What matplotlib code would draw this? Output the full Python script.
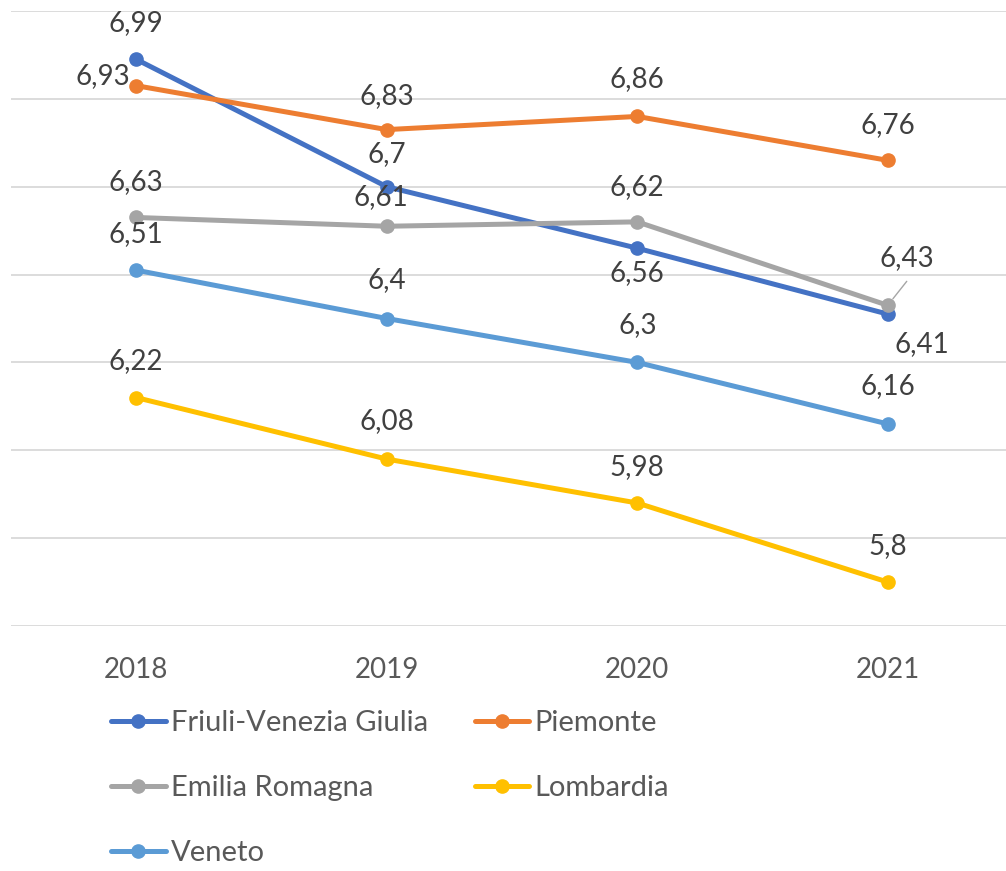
import matplotlib
matplotlib.use("Agg")
import matplotlib.pyplot as plt

# Data
years = ["2018", "2019", "2020", "2021"]
series_names = ["Friuli-Venezia Giulia", "Piemonte", "Emilia Romagna", "Lombardia", "Veneto"]
friuli = [6.99, 6.70, 6.56, 6.41]
piemonte = [6.93, 6.83, 6.86, 6.76]
emilia = [6.63, 6.61, 6.62, 6.43]
lombardia = [6.22, 6.08, 5.98, 5.80]
veneto = [6.51, 6.40, 6.30, 6.16]

values = [friuli, piemonte, emilia, lombardia, veneto]
colors = ["#4472C4", "#ED7D31", "#A5A5A5", "#FFC000", "#5B9BD5"]

# Data-label offsets in pixels (dx, dy) for each point
label_offsets = [
    [(0, 36), (0, 33), (0, -25), (34, -30)],
    [(-33, 10), (0, 34), (0, 37), (0, 35)],
    [(0, 35), (-6, 29), (0, 35), (19, 47)],
    [(0, 37), (0, 38), (0, 36), (0, 36)],
    [(0, 36), (0, 38), (0, 37), (0, 38)],
]

FONT = "Lato"
FS = 20
LEG_FS = 21
W, H = 1006, 871
fig = plt.figure(figsize=(W / 100, H / 100), dpi=100)
ax = fig.add_axes([11 / W, (H - 626) / H, 1002 / W, 615 / H])

x = list(range(len(years)))
handles = []
for name, vals, col in zip(series_names, values, colors):
    (ln,) = ax.plot(x, vals, color=col, lw=3.6, marker="o", markersize=9.5,
                    solid_capstyle="round", label=name, zorder=3, clip_on=False)
    handles.append(ln)

for vals, offs in zip(values, label_offsets):
    for xi, v, (dx, dy) in zip(x, vals, offs):
        txt = f"{v:g}".replace(".", ",")
        ax.annotate(txt, (xi, v), xytext=(dx, dy), textcoords="offset pixels",
                    ha="center", va="center", fontsize=FS, family=FONT,
                    color="#404040", zorder=4)

# Leader line for the Emilia Romagna 2021 label
ax.annotate("", xy=(3, emilia[3]), xytext=(19, 24), textcoords="offset pixels",
            arrowprops=dict(arrowstyle="-", color="#A5A5A5", lw=1.0,
                            shrinkA=0, shrinkB=6), zorder=2)

ax.set_xlim(-0.5, 3.5)
ax.set_ylim(5.7, 7.1)
ax.set_yticks([5.7 + 0.2 * i for i in range(8)])
ax.yaxis.grid(True, color="#D9D9D9", lw=1.3)
ax.set_axisbelow(True)
ax.tick_params(axis="y", left=False, labelleft=False)
ax.set_xticks(x)
ax.set_xticklabels(years, fontsize=FS, family=FONT, color="#595959")
ax.tick_params(axis="x", length=0, pad=22)
for s in ax.spines.values():
    s.set_visible(False)

order = [0, 2, 4, 1, 3]
leg = fig.legend([handles[i] for i in order], [series_names[i] for i in order],
                 loc="upper left", bbox_to_anchor=(111 / W, (H - 710) / H),
                 ncol=2, frameon=False, borderpad=0, borderaxespad=0,
                 handlelength=1.88, handletextpad=0.17, columnspacing=1.6,
                 labelspacing=1.34, prop={"family": FONT, "size": LEG_FS})
for t in leg.get_texts():
    t.set_color("#595959")

fig.savefig("out.png", dpi=100)
